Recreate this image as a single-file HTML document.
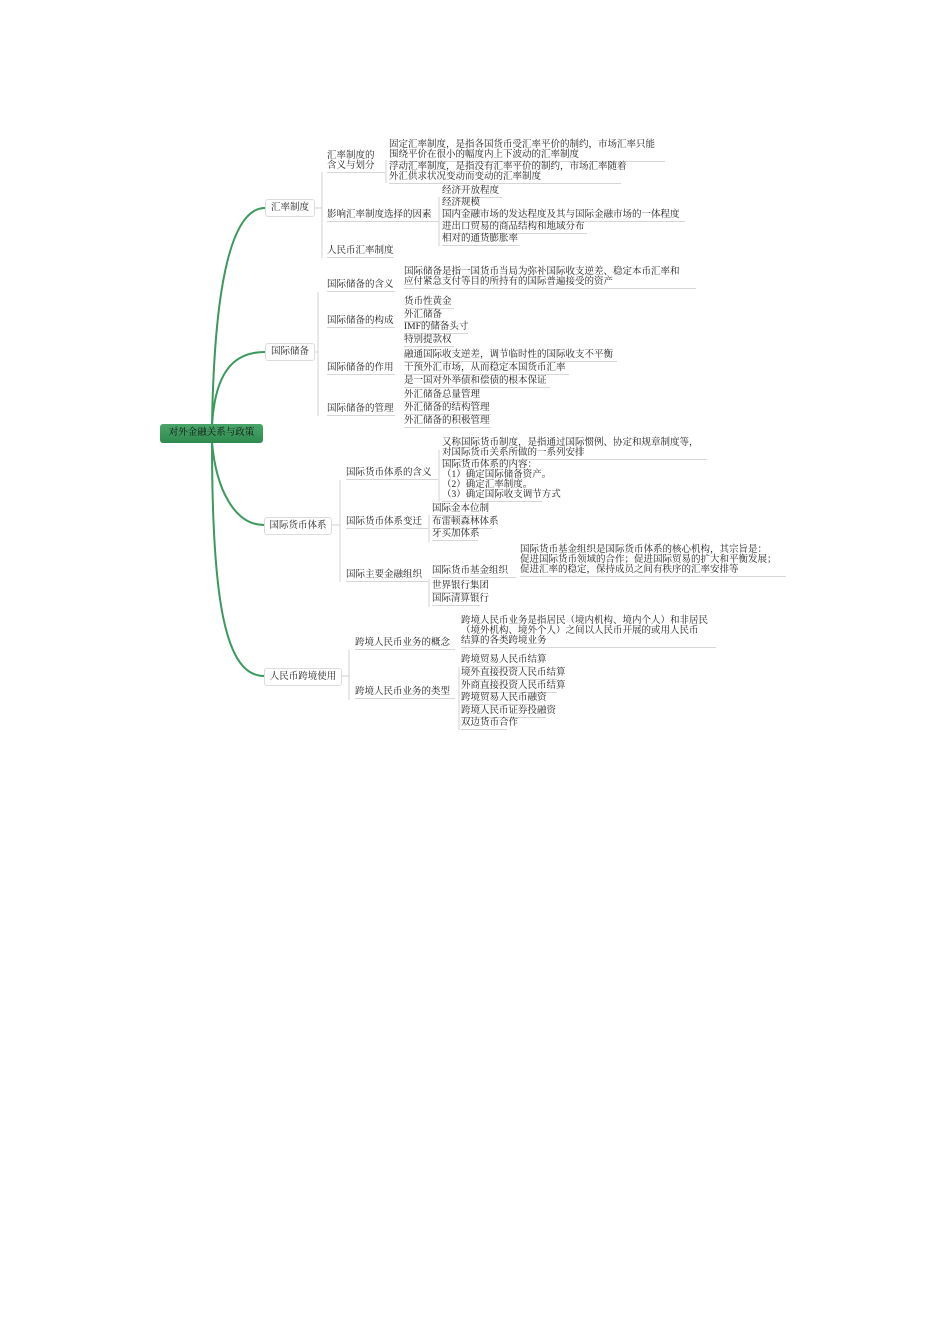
<!DOCTYPE html>
<html><head><meta charset="utf-8"><style>
body{margin:0;background:#fff;width:950px;height:1344px;position:relative;overflow:hidden;font-family:"Liberation Serif","Noto Serif CJK SC",serif;color:#222}
.t{position:absolute;font-size:9.5px;line-height:10px;white-space:pre;border-bottom:1px solid #d6d6d6;padding-bottom:1px;margin-top:2px}
.b{position:absolute;font-size:9.5px;line-height:17px;text-align:center;border:1px solid #dcdcdc;border-radius:3px;background:#fff;box-sizing:border-box}
.root{position:absolute;left:160px;top:424px;width:103px;height:19px;background:linear-gradient(#4aa56a,#2f8a4f);border-radius:3px;color:#111;font-size:9.5px;line-height:19px;text-align:center}
svg{position:absolute;left:0;top:0}
</style></head><body>
<svg width="950" height="1344">
<g fill="none" stroke="#3a9a5c" stroke-width="2">
<path d="M212,426 C214,300 228,208 265,208"/>
<path d="M212,426 C215,370 235,352 265,352"/>
<path d="M212,442 C216,490 235,525 264,525"/>
<path d="M212,442 C212,600 225,676 264,676"/>
</g>
<g fill="none" stroke="#d0d0d0" stroke-width="1">
<path d="M315,208 H322 M322,172 V258"/>
<path d="M386,160 V183"/>
<path d="M439,197 V246"/>
<path d="M315,352 H318 M318,292 V416"/>
<path d="M332,525 H340 M340,480 V582"/>
<path d="M439,450 V502"/>
<path d="M429,515 V542"/>
<path d="M429,579 V607"/>
<path d="M342,676 H349 M349,650 V700"/>
<path d="M459,667 V730"/>
</g>
</svg>
<div class="root">对外金融关系与政策</div>
<div class="b" style="left:265px;top:199px;width:50px;height:18px">汇率制度</div>
<div class="b" style="left:265px;top:343px;width:50px;height:18px">国际储备</div>
<div class="b" style="left:264px;top:517px;width:68px;height:18px">国际货币体系</div>
<div class="b" style="left:264px;top:668px;width:78px;height:18px">人民币跨境使用</div>

<div class="t" style="left:327px;top:149px;width:58px">汇率制度的
含义与划分</div>
<div class="t" style="left:327px;top:208px;width:112px">影响汇率制度选择的因素</div>
<div class="t" style="left:327px;top:244px;width:67px">人民币汇率制度</div>
<div class="t" style="left:389px;top:138px;width:276px">固定汇率制度，是指各国货币受汇率平价的制约，市场汇率只能
围绕平价在很小的幅度内上下波动的汇率制度</div>
<div class="t" style="left:389px;top:160px;width:232px">浮动汇率制度，是指没有汇率平价的制约，市场汇率随着
外汇供求状况变动而变动的汇率制度</div>
<div class="t" style="left:442px;top:184px;width:60px">经济开放程度</div>
<div class="t" style="left:442px;top:196px;width:40px">经济规模</div>
<div class="t" style="left:442px;top:208px;width:243px">国内金融市场的发达程度及其与国际金融市场的一体程度</div>
<div class="t" style="left:442px;top:220px;width:145px">进出口贸易的商品结构和地域分布</div>
<div class="t" style="left:442px;top:232px;width:78px">相对的通货膨胀率</div>

<div class="t" style="left:327px;top:278px;width:68px">国际储备的含义</div>
<div class="t" style="left:404px;top:265px;width:292px">国际储备是指一国货币当局为弥补国际收支逆差、稳定本币汇率和
应付紧急支付等目的所持有的国际普遍接受的资产</div>
<div class="t" style="left:327px;top:314px;width:68px">国际储备的构成</div>
<div class="t" style="left:404px;top:295px;width:50px">货币性黄金</div>
<div class="t" style="left:404px;top:308px;width:40px">外汇储备</div>
<div class="t" style="left:404px;top:320px;width:64px">IMF的储备头寸</div>
<div class="t" style="left:404px;top:333px;width:50px">特别提款权</div>
<div class="t" style="left:327px;top:361px;width:68px">国际储备的作用</div>
<div class="t" style="left:404px;top:348px;width:213px">融通国际收支逆差，调节临时性的国际收支不平衡</div>
<div class="t" style="left:404px;top:361px;width:165px">干预外汇市场，从而稳定本国货币汇率</div>
<div class="t" style="left:404px;top:374px;width:146px">是一国对外举债和偿债的根本保证</div>
<div class="t" style="left:327px;top:402px;width:68px">国际储备的管理</div>
<div class="t" style="left:404px;top:388px;width:76px">外汇储备总量管理</div>
<div class="t" style="left:404px;top:401px;width:87px">外汇储备的结构管理</div>
<div class="t" style="left:404px;top:414px;width:87px">外汇储备的积极管理</div>

<div class="t" style="left:346px;top:466px;width:92px">国际货币体系的含义</div>
<div class="t" style="left:442px;top:436px;width:265px">又称国际货币制度，是指通过国际惯例、协定和规章制度等，
对国际货币关系所做的一系列安排</div>
<div class="t" style="left:442px;top:458px;width:100px">国际货币体系的内容：
（1）确定国际储备资产。
（2）确定汇率制度。
（3）确定国际收支调节方式</div>
<div class="t" style="left:346px;top:515px;width:82px">国际货币体系变迁</div>
<div class="t" style="left:432px;top:502px;width:50px">国际金本位制</div>
<div class="t" style="left:432px;top:515px;width:60px">布雷顿森林体系</div>
<div class="t" style="left:432px;top:527px;width:46px">牙买加体系</div>
<div class="t" style="left:346px;top:568px;width:82px">国际主要金融组织</div>
<div class="t" style="left:432px;top:564px;width:84px">国际货币基金组织</div>
<div class="t" style="left:520px;top:543px;width:266px">国际货币基金组织是国际货币体系的核心机构，其宗旨是：
促进国际货币领域的合作；促进国际贸易的扩大和平衡发展；
促进汇率的稳定，保持成员之间有秩序的汇率安排等</div>
<div class="t" style="left:432px;top:579px;width:48px">世界银行集团</div>
<div class="t" style="left:432px;top:592px;width:48px">国际清算银行</div>

<div class="t" style="left:355px;top:636px;width:100px">跨境人民币业务的概念</div>
<div class="t" style="left:461px;top:614px;width:255px">跨境人民币业务是指居民（境内机构、境内个人）和非居民
（境外机构、境外个人）之间以人民币开展的或用人民币
结算的各类跨境业务</div>
<div class="t" style="left:355px;top:685px;width:100px">跨境人民币业务的类型</div>
<div class="t" style="left:461px;top:653px;width:72px">跨境贸易人民币结算</div>
<div class="t" style="left:461px;top:666px;width:96px">境外直接投资人民币结算</div>
<div class="t" style="left:461px;top:679px;width:96px">外商直接投资人民币结算</div>
<div class="t" style="left:461px;top:691px;width:74px">跨境贸易人民币融资</div>
<div class="t" style="left:461px;top:704px;width:85px">跨境人民币证券投融资</div>
<div class="t" style="left:461px;top:716px;width:46px">双边货币合作</div>
</body></html>
